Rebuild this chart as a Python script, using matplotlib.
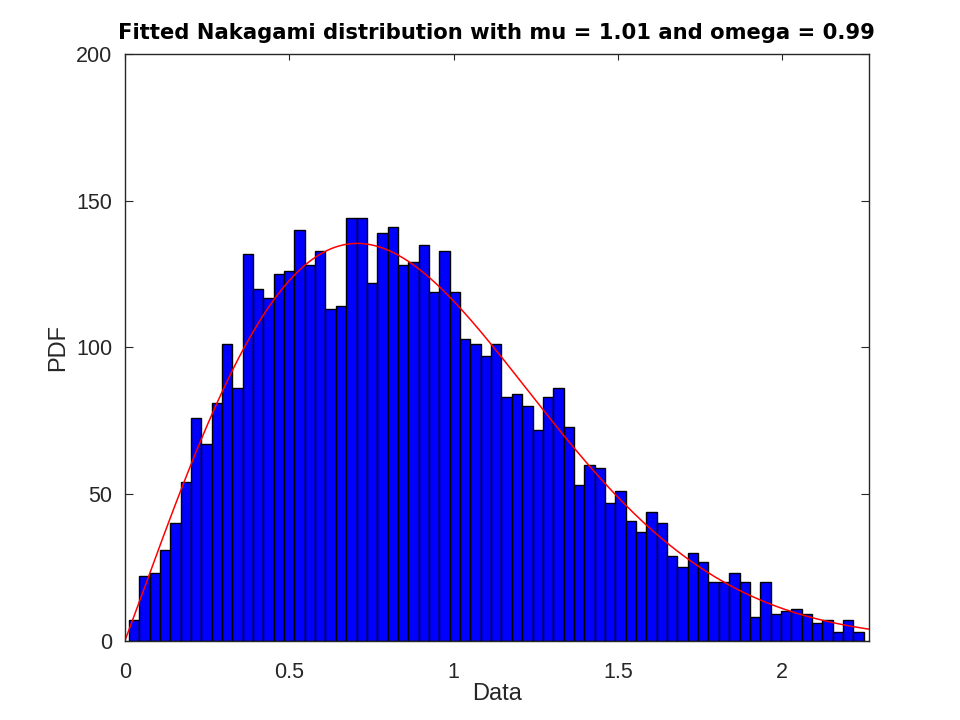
import math
import numpy as np
import matplotlib
matplotlib.use("Agg")
import matplotlib.pyplot as plt

# ---- data ----
counts = [7, 22, 23, 31, 40, 54, 76, 67, 81, 101,
          86, 132, 120, 117, 125, 126, 140, 128, 133, 113,
          114, 144, 144, 122, 139, 141, 128, 129, 135, 119,
          133, 119, 103, 101, 97, 101, 83, 84, 80, 72,
          83, 86, 73, 53, 60, 59, 47, 51, 41, 37,
          44, 40, 29, 25, 30, 27, 20, 20, 23, 20,
          8, 20, 9, 10, 11, 9, 6, 7, 3, 7,
          3]
data_min = 0.0122
data_max = 2.2476
mu = 1.01
omega = 0.99
x_ticks = [0, 0.5, 1, 1.5, 2]
x_tick_labels = ["0", "0.5", "1", "1.5", "2"]
y_ticks = [0, 50, 100, 150, 200]
y_tick_labels = ["0", "50", "100", "150", "200"]
x_max = 2.263
y_max = 200

plt.rcParams['font.family'] = ['Liberation Sans', 'DejaVu Sans']

nbins = len(counts)
edges = np.linspace(data_min, data_max, nbins + 1)
width = edges[1] - edges[0]
centers = (edges[:-1] + edges[1:]) / 2

fig = plt.figure(figsize=(9.6, 7.2), dpi=100)
ax = fig.add_axes([0.13, 0.11, 0.775, 0.815])

ax.bar(centers, counts, width=width, color=(0, 0, 1), edgecolor='black',
       linewidth=1.0, align='center', zorder=2)

# fitted Nakagami pdf scaled to counts
xs = np.linspace(0, x_max, 400)
scale = sum(counts) * width
pdf = (2 * mu ** mu / (math.gamma(mu) * omega ** mu)) * xs ** (2 * mu - 1) * np.exp(-mu * xs ** 2 / omega)
ax.plot(xs, pdf * scale, color='red', linewidth=1.1, zorder=3)

ax.set_xlim(0, x_max)
ax.set_ylim(0, y_max)
ax.set_xticks(x_ticks)
ax.set_xticklabels(x_tick_labels)
ax.set_yticks(y_ticks)
ax.set_yticklabels(y_tick_labels)

tc = '#262626'
for s in ax.spines.values():
    s.set_color(tc)
    s.set_linewidth(1.0)
    s.set_zorder(4)
ax.tick_params(axis='both', direction='in', top=True, right=True, colors=tc,
               labelsize=15.5, width=0.8)
ax.tick_params(axis='x', length=4, pad=15)
ax.tick_params(axis='y', length=6, pad=9)

ax.set_xlabel('Data', fontsize=17, color=tc, labelpad=0)
ax.set_ylabel('PDF', fontsize=17, color=tc, labelpad=5)
ax.set_title('Fitted Nakagami distribution with mu = 1.01 and omega = 0.99',
             fontsize=15.2, fontweight='bold', color='black', pad=11,
             family=['DejaVu Sans'])

fig.savefig('out.png', dpi=100)
